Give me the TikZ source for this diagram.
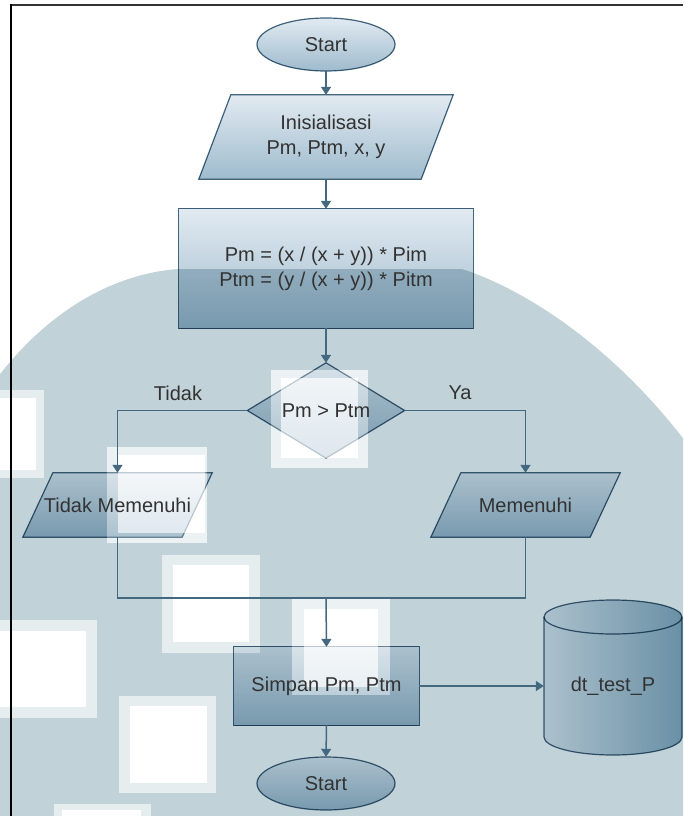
\documentclass[tikz,border=0pt]{standalone}
\usepackage{fontspec}
\setmainfont{Liberation Sans}
\usetikzlibrary{shapes.geometric, arrows.meta}

\pgfdeclarelayer{wm}
\pgfdeclarelayer{shapes}
\pgfsetlayers{wm,shapes,main}

\definecolor{wmark}{RGB}{194,210,217}
\definecolor{edge}{RGB}{68,104,128}
\definecolor{filltop}{RGB}{226,234,241}
\definecolor{fillbot}{RGB}{158,187,205}
\definecolor{fillright}{RGB}{140,176,195}
\definecolor{ink}{RGB}{50,50,50}

\tikzset{
  base/.style={font=\fontsize{20pt}{25pt}\selectfont, text=ink, align=center, inner sep=0pt},
  terminal/.style={base, ellipse, minimum width=138pt, minimum height=53pt},
  process/.style={base, rectangle},
  decision/.style={base, diamond, aspect=1.65, minimum width=157pt, minimum height=95pt},
  iotext/.style={base, rectangle, minimum width=159pt, minimum height=64pt},
  body/.style={draw=edge, line width=1.2pt, top color=filltop, bottom color=fillbot},
  dbbody/.style={draw=edge, line width=1.2pt, left color=filltop, right color=fillright},
  rim/.style={draw=edge, line width=1.2pt},
  branch/.style={font=\fontsize{20pt}{25pt}\selectfont, text=ink, inner sep=0pt},
  link/.style={draw=edge, line width=1.5pt, -{Triangle[width=10pt,length=8pt]}},
  plain/.style={draw=edge, line width=1.5pt},
  glow/.style={fill=white, fill opacity=0.6},
  glowcore/.style={fill=white},
  veilring/.style={fill=white, fill opacity=0.25},
  veilcore/.style={fill=white, fill opacity=0.55},
}

\begin{document}
\begin{tikzpicture}[x=1pt, y=-1pt]
  \useasboundingbox (0,0) rectangle (683,816);

  % ---- nodes (text only; bodies are painted on the shapes layer) ----
  \node[terminal] (start) at (326,44.5) {Start};
  \node[base, rectangle, minimum width=222pt, minimum height=84pt] (init) at (326,137)
    {Inisialisasi\\Pm, Ptm, x, y};
  \node[process, minimum width=294pt, minimum height=119pt] (calc) at (326,268.5)
    {Pm = (x / (x + y)) * Pim\\Ptm = (y / (x + y)) * Pitm};
  \node[decision] (dec) at (326,410.5) {Pm > Ptm};
  \node[iotext] (no) at (117.5,505) {Tidak Memenuhi};
  \node[iotext] (yes) at (525.5,505) {Memenuhi};
  \node[process, minimum width=185pt, minimum height=78pt] (save) at (326.5,686) {Simpan Pm, Ptm};
  \node[base, minimum width=138pt, minimum height=40pt] (db) at (613,686) {dt\_test\_P};
  \node[terminal] (stop) at (326,783.5) {Start};

  \node[branch] (lblno) at (178,393) {Tidak};
  \node[branch] (lblyes) at (460,393) {Ya};

  \coordinate (merge) at (326,598);

  % ---- connectors ----
  \draw[link] (start.south) -- (init.north);
  \draw[link] (init.south) -- (calc.north);
  \draw[link] (calc.south) -- (dec.north);
  \draw[link] (dec.west) -| (no.north);
  \draw[link] (dec.east) -| (yes.north);
  \draw[plain] (no.south) |- (merge) -| (yes.south);
  \draw[link] (merge) -- (save.north);
  \draw[link] (save.east) -- (db.west);
  \draw[link] (save.south) -- (stop.north);

  % ---- frame lines ----
  \draw[black!80, line width=1.5pt] (10,5) -- (683,5);
  \draw[black, line width=2pt] (11,4.3) -- (11,816);

  % ---- background watermark ----
  \begin{pgfonlayer}{wm}
    \fill[white] (0,0) rectangle (683,816);
    \begin{scope}
      \clip (0,0) rectangle (683,816);
      \fill[wmark] (-8,385) .. controls (35,325) and (100,275) .. (178,269)
        -- (462,269) .. controls (518,287) and (610,340) .. (692,450)
        -- (692,825) -- (-8,825) -- cycle;
      \foreach \ax/\ay/\bx/\by/\cx/\cy/\dx/\dy in {
          271/370/368/468/281/378/358/458,
          107/447/207/543/118/455/205/533,
          0/390/44/478/0/398/36/470,
          162/555/260/653/173/565/249/642,
          292/598/390/695/304/609/378/687,
          0/620/97/718/0/631/86/707,
          119/696/216/793/130/706/207/783,
          54/804/151/830/62/810/141/830}{
        \fill[glow] (\ax,\ay) rectangle (\bx,\by);
        \fill[glowcore] (\cx,\cy) rectangle (\dx,\dy);
      }
    \end{scope}
  \end{pgfonlayer}

  % ---- shape bodies ----
  \begin{pgfonlayer}{shapes}
    \begin{scope}[blend mode=multiply]
      \path[body] (start.center) ellipse[x radius=69, y radius=26.5];
      \path[body] ([xshift=-16pt]init.south west) -- ([xshift=-16pt]init.south east)
        -- ([xshift=16pt]init.north east) -- ([xshift=16pt]init.north west) -- cycle;
      \path[body] (calc.north west) rectangle (calc.south east);
      \path[body] (dec.north) -- (dec.east) -- (dec.south) -- (dec.west) -- cycle;
      \path[body] ([xshift=-15pt]no.south west) -- ([xshift=-15pt]no.south east)
        -- ([xshift=15pt]no.north east) -- ([xshift=15pt]no.north west) -- cycle;
      \path[body] ([xshift=-15pt]yes.south west) -- ([xshift=-15pt]yes.south east)
        -- ([xshift=15pt]yes.north east) -- ([xshift=15pt]yes.north west) -- cycle;
      \path[body] (save.north west) rectangle (save.south east);
      \path[dbbody] (544,617) -- (544,737)
          arc[start angle=180, end angle=0, x radius=69, y radius=18]
          -- (682,617)
          arc[start angle=0, end angle=-180, x radius=69, y radius=17] -- cycle;
      \draw[rim] (544,617) arc[start angle=180, end angle=0, x radius=69, y radius=17];
      \path[body] (stop.center) ellipse[x radius=69, y radius=26.5];
    \end{scope}
    % light patches of the watermark showing through the bodies
    \foreach \ax/\ay/\bx/\by/\cx/\cy/\dx/\dy in {
        271/370/368/468/281/378/358/458,
        107/447/207/543/118/455/205/533,
        292/598/390/695/304/609/378/687}{
      \fill[veilring] (\ax,\ay) rectangle (\bx,\by);
      \fill[veilcore] (\cx,\cy) rectangle (\dx,\dy);
    }
  \end{pgfonlayer}
\end{tikzpicture}
\end{document}
